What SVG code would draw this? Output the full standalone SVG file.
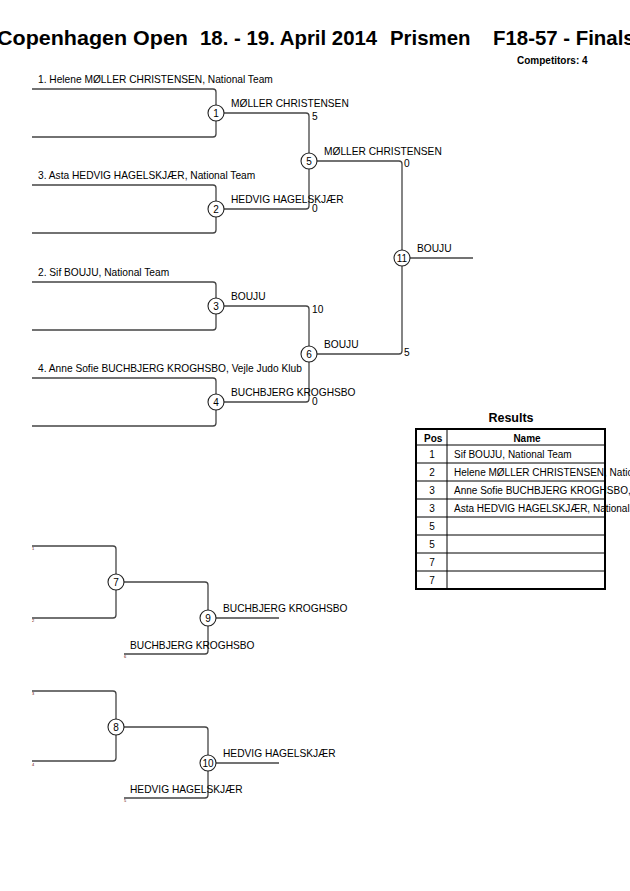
<svg xmlns="http://www.w3.org/2000/svg" width="630" height="891" viewBox="0 0 630 891">
<style>
text{font-family:"Liberation Sans",Arial,sans-serif;fill:#000}
.t{font-size:20.4px;font-weight:bold}
.b{font-size:10px;font-weight:bold}
.n{font-size:10.2px}
.r{font-size:10px}
.c{font-size:10px;text-anchor:middle}
.tiny{font-size:4px;fill:#600}
.ln{fill:none;stroke:#444;stroke-width:1.3}
.nd{fill:#fff;stroke:#222;stroke-width:1.1}
.tb{fill:none;stroke:#000;stroke-width:1}
</style>
<rect width="630" height="891" fill="#fff"/>
<g id="title">
<text class="t" x="-3" y="45" textLength="191" lengthAdjust="spacingAndGlyphs">Copenhagen Open</text>
<text class="t" x="200" y="45">18. - 19. April 2014</text>
<text class="t" x="390" y="45">Prismen</text>
<text class="t" x="493" y="45">F18-57 - Finals</text>
<text class="b" x="517" y="64">Competitors: 4</text>
</g>
<g id="connectors">
<path class="ln" d="M32,89H213A3,3 0 0 1 216,92V134A3,3 0 0 1 213,137H32"/>
<path class="ln" d="M32,185H213A3,3 0 0 1 216,188V230A3,3 0 0 1 213,233H32"/>
<path class="ln" d="M32,282H213A3,3 0 0 1 216,285V327A3,3 0 0 1 213,330H32"/>
<path class="ln" d="M32,378H213A3,3 0 0 1 216,381V423A3,3 0 0 1 213,426H32"/>
<path class="ln" d="M216,113H306A3,3 0 0 1 309,116V161"/>
<path class="ln" d="M216,209H306A3,3 0 0 0 309,206V161"/>
<path class="ln" d="M216,306H306A3,3 0 0 1 309,309V354"/>
<path class="ln" d="M216,402H306A3,3 0 0 0 309,399V354"/>
<path class="ln" d="M309,161H399A3,3 0 0 1 402,164V258"/>
<path class="ln" d="M309,354H399A3,3 0 0 0 402,351V258"/>
<path class="ln" d="M402,258H473"/>
<path class="ln" d="M32,546H113A3,3 0 0 1 116,549V615A3,3 0 0 1 113,618H32"/>
<path class="ln" d="M116,582H205A3,3 0 0 1 208,585V618"/>
<path class="ln" d="M124,654H205A3,3 0 0 0 208,651V618"/>
<path class="ln" d="M208,618H279"/>
<path class="ln" d="M32,691H113A3,3 0 0 1 116,694V758A3,3 0 0 1 113,761H32"/>
<path class="ln" d="M116,727H205A3,3 0 0 1 208,730V763"/>
<path class="ln" d="M124,798H205A3,3 0 0 0 208,795V763"/>
<path class="ln" d="M208,763H279"/>
</g>
<g id="labels">
<text class="n" x="38" y="83">1. Helene MØLLER CHRISTENSEN, National Team</text>
<text class="n" x="38" y="179">3. Asta HEDVIG HAGELSKJÆR, National Team</text>
<text class="n" x="38" y="276">2. Sif BOUJU, National Team</text>
<text class="n" x="38" y="372">4. Anne Sofie BUCHBJERG KROGHSBO, Vejle Judo Klub</text>
<text class="n" x="231" y="107">MØLLER CHRISTENSEN</text>
<text class="n" x="312" y="120">5</text>
<text class="n" x="231" y="203">HEDVIG HAGELSKJÆR</text>
<text class="n" x="312" y="212">0</text>
<text class="n" x="231" y="300">BOUJU</text>
<text class="n" x="312" y="313">10</text>
<text class="n" x="231" y="396">BUCHBJERG KROGHSBO</text>
<text class="n" x="312" y="405">0</text>
<text class="n" x="324" y="155">MØLLER CHRISTENSEN</text>
<text class="n" x="404" y="167">0</text>
<text class="n" x="324" y="348">BOUJU</text>
<text class="n" x="404" y="356">5</text>
<text class="n" x="417" y="252">BOUJU</text>
<text class="n" x="223" y="612">BUCHBJERG KROGHSBO</text>
<text class="n" x="130" y="649">BUCHBJERG KROGHSBO</text>
<text class="n" x="223" y="757">HEDVIG HAGELSKJÆR</text>
<text class="n" x="130" y="793">HEDVIG HAGELSKJÆR</text>
<text class="tiny" x="32" y="550">1</text>
<text class="tiny" x="32" y="622">2</text>
<text class="tiny" x="124" y="658">6</text>
<text class="tiny" x="32" y="695">3</text>
<text class="tiny" x="32" y="766">4</text>
<text class="tiny" x="124" y="802">5</text>
</g>
<g id="n1"><circle class="nd" cx="216" cy="113" r="8"/><text class="c" x="216" y="117">1</text></g>
<g id="n2"><circle class="nd" cx="216" cy="209" r="8"/><text class="c" x="216" y="213">2</text></g>
<g id="n3"><circle class="nd" cx="216" cy="306" r="8"/><text class="c" x="216" y="310">3</text></g>
<g id="n4"><circle class="nd" cx="216" cy="402" r="8"/><text class="c" x="216" y="406">4</text></g>
<g id="n5"><circle class="nd" cx="309" cy="161" r="8"/><text class="c" x="309" y="165">5</text></g>
<g id="n6"><circle class="nd" cx="309" cy="354" r="8"/><text class="c" x="309" y="358">6</text></g>
<g id="n11"><circle class="nd" cx="402" cy="258" r="8"/><text class="c" x="402" y="262">11</text></g>
<g id="n7"><circle class="nd" cx="116" cy="582" r="8"/><text class="c" x="116" y="586">7</text></g>
<g id="n8"><circle class="nd" cx="116" cy="727" r="8"/><text class="c" x="116" y="731">8</text></g>
<g id="n9"><circle class="nd" cx="208" cy="618" r="8"/><text class="c" x="208" y="622">9</text></g>
<g id="n10"><circle class="nd" cx="208" cy="763" r="8"/><text class="c" x="208" y="767">10</text></g>
<g id="results">
<text x="511" y="422" style="font-size:12.5px;font-weight:bold;text-anchor:middle">Results</text>
<text class="b" x="424" y="442">Pos</text>
<text class="b" x="527" y="442" text-anchor="middle">Name</text>
<g class="r">
<text class="c" x="432" y="458">1</text><text x="454" y="458">Sif BOUJU, National Team</text>
<text class="c" x="432" y="476">2</text><text x="454" y="476">Helene MØLLER CHRISTENSEN, National Team</text>
<text class="c" x="432" y="494">3</text><text x="454" y="494">Anne Sofie BUCHBJERG KROGHSBO, Vejle Judo Klub</text>
<text class="c" x="432" y="512">3</text><text x="454" y="512">Asta HEDVIG HAGELSKJÆR, National Team</text>
<text class="c" x="432" y="530">5</text>
<text class="c" x="432" y="548">5</text>
<text class="c" x="432" y="566">7</text>
<text class="c" x="432" y="584">7</text>
</g>
<path class="tb" d="M416,445H605M416,463H605M416,481H605M416,499H605M416,517H605M416,535H605M416,553H605M416,571H605M447,429V589"/>
<rect x="416" y="429" width="189" height="160" fill="none" stroke="#000" stroke-width="2"/>
</g>
</svg>
